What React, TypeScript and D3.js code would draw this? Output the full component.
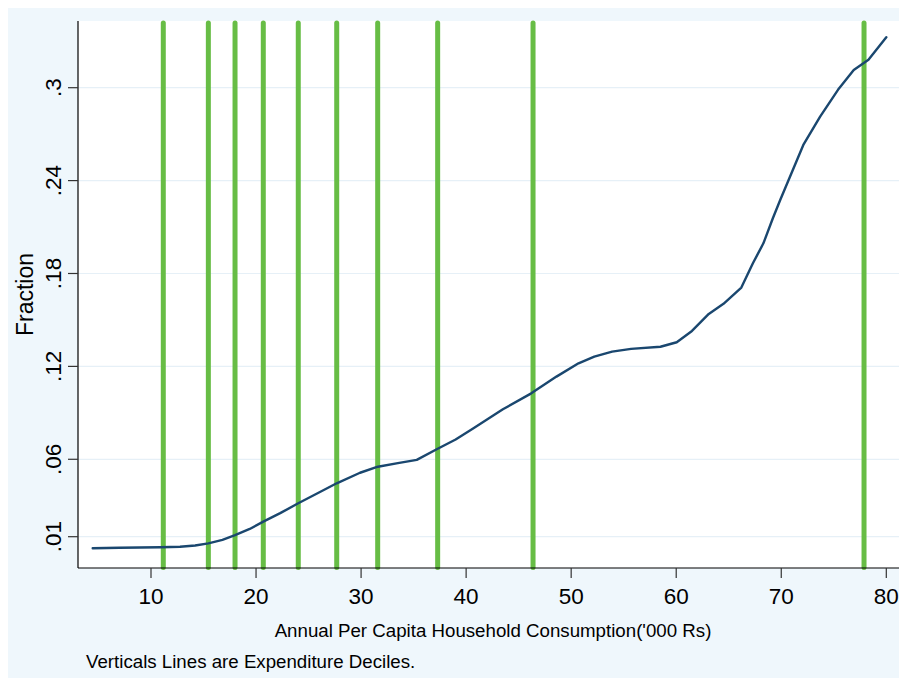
import React from "react";
import * as d3 from "d3";

const xTicks = [10, 20, 30, 40, 50, 60, 70, 80];
const yTicks = [0.01, 0.06, 0.12, 0.18, 0.24, 0.3];
const yTickLabels = [".01", ".06", ".12", ".18", ".24", ".3"];
const deciles = [11.17, 15.46, 18.0, 20.69, 24.02, 27.68, 31.58, 37.29, 46.37, 77.88];
const curveX = [4.45, 7, 10.9, 12.76, 14.2, 15.46, 16.8, 18.0, 19.4, 20.69, 22.3, 24.02, 25.9, 27.68, 29.9, 31.6, 33.5, 35.3, 37.2, 39.0, 40.7, 43.5, 46.2, 48.6, 50.7, 52.2, 53.9, 55.7, 58.5, 60.05, 61.5, 63.1, 64.5, 66.2, 67.3, 68.3, 69.2, 69.9, 72.1, 73.7, 75.4, 76.9, 78.3, 80.0];
const curveY = [0.0025, 0.0029, 0.0032, 0.0035, 0.0043, 0.0057, 0.0080, 0.011, 0.0150, 0.0197, 0.0252, 0.0316, 0.0382, 0.0445, 0.0513, 0.0552, 0.0575, 0.0596, 0.0665, 0.0728, 0.080, 0.0923, 0.1026, 0.1134, 0.122, 0.1263, 0.1295, 0.1313, 0.1327, 0.1356, 0.1429, 0.1539, 0.1604, 0.1709, 0.1866, 0.1995, 0.2157, 0.2275, 0.263, 0.2813, 0.2986, 0.3115, 0.318, 0.3326];

const BG = "#eff7fc";
const GRID = "#e6f0f7";
const NAVY = "#1a476f";
const GREEN = "#67bd45";
const FONT = "'Liberation Sans', Arial, Helvetica, sans-serif";

export default function App() {
  const left = 78, top = 21, bottom = 568, right = 905;
  const x = d3.scaleLinear().domain([10, 80]).range([151, 886.3]);
  const y = d3.scaleLinear().domain([0.01, 0.3]).range([536.7, 87.7]);
  const pts: [number, number][] = curveX.map((v, i) => [v, curveY[i]]);
  const line = d3.line<[number, number]>().x(d => x(d[0])).y(d => y(d[1]));
  const yTopVal = y.invert(top + 2);
  const yBotVal = y.invert(bottom - 0.5);

  return (
    <svg
      width={891}
      height={670}
      style={{ position: "absolute", left: 8, top: 8, display: "block" }}
    >
      <g transform="translate(-8,-8)">
        <rect x={8} y={8} width={891} height={670} fill={BG} />
        <rect x={left} y={top} width={right - left} height={bottom - top} fill="#ffffff" />
        {yTicks.map((t, i) => (
          <line key={"g" + i} x1={left} x2={right} y1={y(t)} y2={y(t)} stroke={GRID} strokeWidth={1.2} />
        ))}
        {deciles.map((d, i) => (
          <line
            key={"d" + i}
            x1={x(d)}
            x2={x(d)}
            y1={y(yTopVal)}
            y2={y(yBotVal)}
            stroke={GREEN}
            strokeWidth={5}
            strokeLinecap="round"
          />
        ))}
        <path d={line(pts) || ""} fill="none" stroke={NAVY} strokeWidth={2.4} strokeLinejoin="round" strokeLinecap="round" />
        <line x1={left} x2={left} y1={top} y2={bottom} stroke="#000" strokeWidth={1.2} />
        <line x1={left} x2={right} y1={bottom} y2={bottom} stroke="#000" strokeWidth={1.2} />
        {yTicks.map((t, i) => (
          <g key={"yt" + i}>
            <line x1={left - 10} x2={left} y1={y(t)} y2={y(t)} stroke="#333" strokeWidth={1.2} />
            <text
              transform={`translate(${61},${y(t)}) rotate(-90)`}
              textAnchor="middle"
              fontFamily={FONT}
              fontSize={22.5}
              fill="#000"
            >
              {yTickLabels[i]}
            </text>
          </g>
        ))}
        {xTicks.map((t, i) => (
          <g key={"xt" + i}>
            <line x1={x(t)} x2={x(t)} y1={bottom} y2={bottom + 10} stroke="#333" strokeWidth={1.2} />
            <text x={x(t)} y={603.5} textAnchor="middle" fontFamily={FONT} fontSize={22.5} fill="#000">
              {t}
            </text>
          </g>
        ))}
        <text
          transform={`translate(33,${(top + bottom) / 2}) rotate(-90)`}
          textAnchor="middle"
          fontFamily={FONT}
          fontSize={23}
          fill="#000"
        >
          Fraction
        </text>
        <text x={493} y={637} textAnchor="middle" fontFamily={FONT} fontSize={18.7} fill="#000">
          Annual Per Capita Household Consumption('000 Rs)
        </text>
        <text x={86} y={668} fontFamily={FONT} fontSize={18.7} fill="#000">
          Verticals Lines are Expenditure Deciles.
        </text>
      </g>
    </svg>
  );
}
